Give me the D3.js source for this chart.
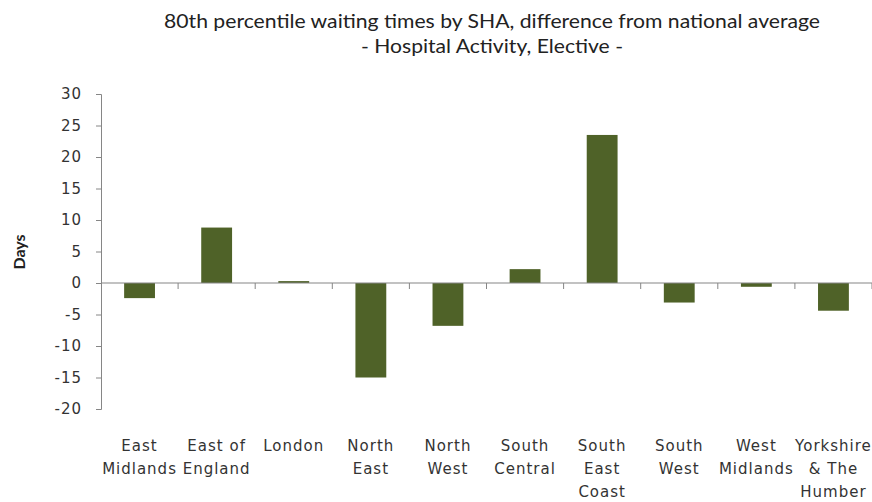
<!DOCTYPE html>
<html>
<head>
<meta charset="utf-8">
<script src="https://cdn.jsdelivr.net/npm/d3@7"></script>
<style>
  html, body { margin: 0; padding: 0; background: #fff; }
  svg { display: block; }
</style>
</head>
<body>
<svg id="chart" width="872" height="502"></svg>
<script>
// Regions (strategic health authorities), each label split into its display lines
const categories = [
  ["East", "Midlands"],
  ["East of", "England"],
  ["London"],
  ["North", "East"],
  ["North", "West"],
  ["South", "Central"],
  ["South", "East", "Coast"],
  ["South", "West"],
  ["West", "Midlands"],
  ["Yorkshire", "& The", "Humber"]
];

// Difference from national average, days
const values = [-2.4, 8.8, 0.3, -15.0, -6.8, 2.2, 23.5, -3.1, -0.6, -4.4];

const yTicks = [30, 25, 20, 15, 10, 5, 0, -5, -10, -15, -20];

const titleLines = [
  "80th percentile waiting times by SHA, difference from national average",
  "-  Hospital Activity, Elective -"
];

const svg = d3.select("#chart");
const W = 872, H = 502;
const margin = { top: 94, left: 101, right: 0, bottom: 93 };

const x = d3.scaleBand()
  .domain(d3.range(categories.length))
  .range([margin.left, W - margin.right])
  .paddingInner(0.6)
  .paddingOuter(0.3);

const y = d3.scaleLinear()
  .domain([-20, 30])
  .range([H - margin.bottom, margin.top]);

const axisColor = "#868686";
const barColor = "#4f6228";
const tickFont = "'DejaVu Sans', Verdana, sans-serif";

// Bars
svg.append("g")
  .selectAll("rect")
  .data(values)
  .join("rect")
  .attr("x", (d, i) => x(i))
  .attr("width", x.bandwidth())
  .attr("y", d => y(Math.max(0, d)))
  .attr("height", d => Math.abs(y(d) - y(0)))
  .attr("fill", barColor);

// Y axis (plain hyphen for negatives)
const yAxis = svg.append("g")
  .attr("transform", `translate(${margin.left},0)`)
  .call(d3.axisLeft(y).tickValues(yTicks).tickSize(5).tickPadding(14).tickFormat(d => String(d)));
yAxis.select(".domain").attr("stroke", axisColor);
yAxis.selectAll(".tick line").attr("stroke", axisColor);
yAxis.selectAll(".tick text")
  .attr("fill", "#333")
  .style("font-family", tickFont)
  .style("font-size", "15px")
  .style("letter-spacing", "1px");

// Zero line with category boundary ticks
const x0 = margin.left, x1 = W - margin.right;
const zero = svg.append("g").attr("transform", `translate(0,${y(0)})`);
zero.append("line")
  .attr("x1", x0).attr("x2", x1)
  .attr("stroke", axisColor).attr("stroke-width", 1.2);
zero.selectAll("line.tk")
  .data(d3.range(1, categories.length + 1))
  .join("line")
  .attr("class", "tk")
  .attr("x1", i => x0 + i * (x1 - x0) / categories.length)
  .attr("x2", i => x0 + i * (x1 - x0) / categories.length)
  .attr("y1", 0).attr("y2", 6)
  .attr("stroke", axisColor);

// Category labels beneath the plot
const labels = svg.append("g")
  .selectAll("text")
  .data(categories)
  .join("text")
  .attr("x", (d, i) => x(i) + x.bandwidth() / 2)
  .attr("y", 451)
  .attr("text-anchor", "middle")
  .attr("fill", "#333")
  .style("font-family", tickFont)
  .style("font-size", "15px")
  .style("letter-spacing", "1px");
labels.selectAll("tspan")
  .data(d => d)
  .join("tspan")
  .attr("x", function () { return d3.select(this.parentNode).attr("x"); })
  .attr("dy", (d, i) => i === 0 ? 0 : 23)
  .text(d => d);

// Y axis title
svg.append("text")
  .attr("transform", "translate(25,252) rotate(-90)")
  .attr("text-anchor", "middle")
  .attr("fill", "#222")
  .style("font-family", "Lato, 'Open Sans', sans-serif")
  .style("font-weight", "bold")
  .style("font-size", "16px")
  .text("Days");

// Chart title
const titleWidths = [656, 262];
svg.append("g")
  .selectAll("text")
  .data(titleLines)
  .join("text")
  .attr("x", 492)
  .attr("y", (d, i) => 28 + i * 25)
  .attr("text-anchor", "middle")
  .attr("fill", "#222")
  .attr("textLength", (d, i) => titleWidths[i])
  .attr("lengthAdjust", "spacingAndGlyphs")
  .style("font-family", "Lato, 'Open Sans', sans-serif")
  .style("font-size", "19px")
  .text(d => d);
</script>
</body>
</html>
